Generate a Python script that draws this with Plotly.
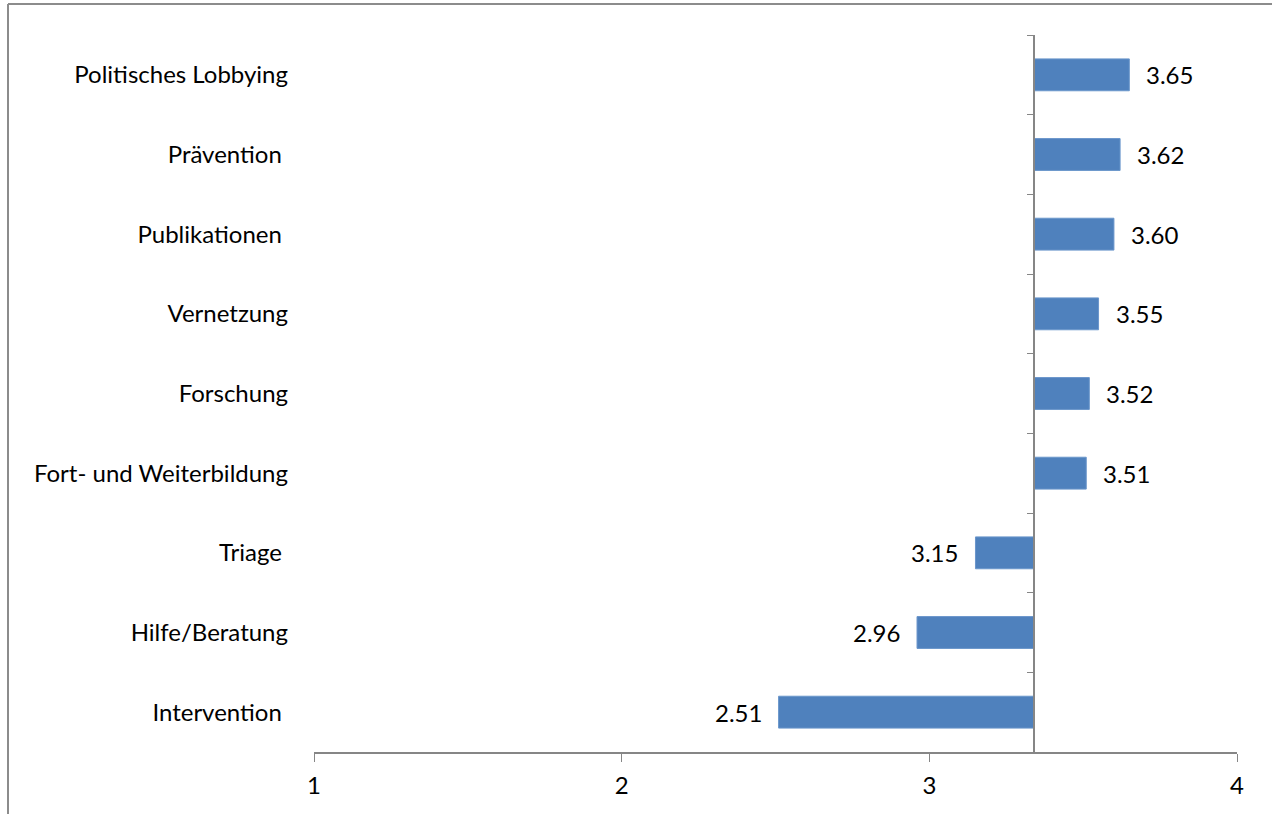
import plotly.graph_objects as go

categories = ["Politisches Lobbying", "Prävention\u00a0", "Publikationen\u00a0", "Vernetzung",
              "Forschung", "Fort- und Weiterbildung", "Triage\u00a0", "Hilfe/Beratung", "Intervention\u00a0"]
values = [3.65, 3.62, 3.60, 3.55, 3.52, 3.51, 3.15, 2.96, 2.51]
x_ticks = [1, 2, 3, 4]

base = sum(values) / len(values)  # axis crosses at the mean

W, H = 1272, 814
ML, MR, MT, MB = 314, 35, 35, 62
FONT = "Lato"
FS = 24
AXC = "#868686"

fig = go.Figure()
fig.add_trace(go.Bar(
    y=categories, x=[v - base for v in values], base=base, orientation="h",
    marker=dict(color="#4F81BD", line=dict(color="#6A96CB", width=1)),
    width=0.4, showlegend=False, hoverinfo="skip",
))
fig.add_trace(go.Scatter(y=categories, x=values, mode="none", yaxis="y2",
                         showlegend=False, hoverinfo="skip"))

for c, v in zip(categories, values):
    right = v >= base
    fig.add_annotation(x=v, y=c, text=f"{v:.2f}", showarrow=False,
                       xanchor="left" if right else "right",
                       xshift=15 if right else -15,
                       font=dict(family=FONT, size=FS, color="#000"))

pw = W - ML - MR
ph = H - MT - MB
# outer frame (left and top edges visible)
fig.add_shape(type="line", xref="paper", yref="paper",
              x0=(8 - ML) / pw, x1=(8 - ML) / pw, y0=(H - MB - 4) / ph, y1=-(MB + 5) / ph,
              line=dict(color="#8c8c8c", width=2))
fig.add_shape(type="line", xref="paper", yref="paper",
              x0=(8 - ML) / pw, x1=(W + 5 - ML) / pw, y0=(H - MB - 4) / ph, y1=(H - MB - 4) / ph,
              line=dict(color="#8c8c8c", width=2))

fig.update_layout(
    width=W, height=H,
    margin=dict(l=ML, r=MR, t=MT, b=MB),
    plot_bgcolor="white", paper_bgcolor="white",
    font=dict(family=FONT, size=FS, color="#000"),
    xaxis=dict(range=[1, 4], tickvals=x_ticks, ticks="outside", ticklen=8, tickcolor=AXC,
               showline=True, linecolor=AXC, linewidth=1.5, showgrid=False, zeroline=False,
               ticklabelstandoff=3, tickfont=dict(family=FONT, size=FS)),
    yaxis=dict(type="category", categoryarray=categories, range=[8.5, -0.5],
               showline=False, ticks="", showgrid=False, ticklabelstandoff=25,
               tickfont=dict(family=FONT, size=FS)),
    yaxis2=dict(type="category", categoryarray=categories, range=[8.5, -0.5],
                overlaying="y", anchor="free", side="left",
                position=(base - 1) / 3, showline=True, linecolor=AXC, linewidth=1.5,
                ticks="outside", tickson="boundaries", ticklen=7, tickcolor=AXC,
                showticklabels=False, showgrid=False),
    bargap=0.6,
)

fig.write_html("out.html", config={"displayModeBar": False},
               post_script="document.body.style.margin='0';")
